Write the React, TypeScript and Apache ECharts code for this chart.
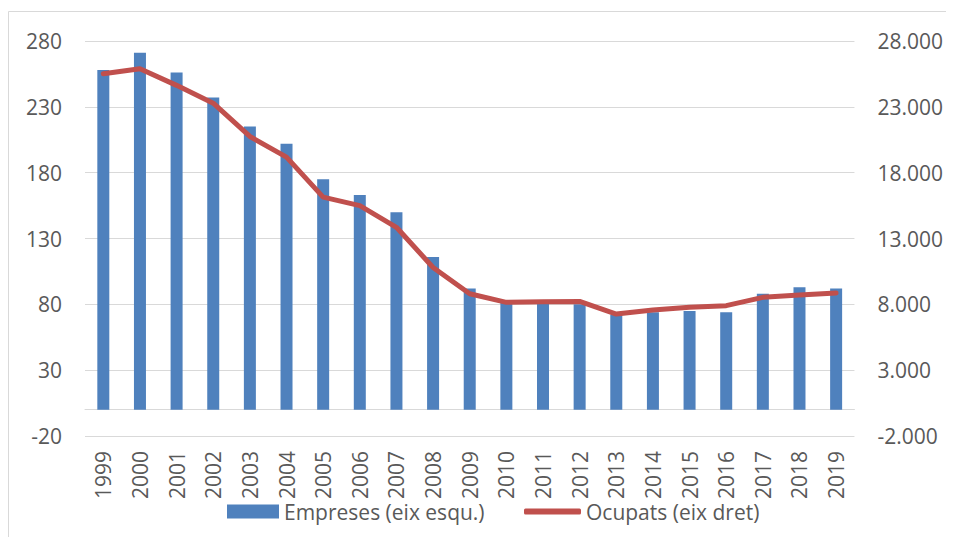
import React, { useEffect, useRef } from "react";
import * as echarts from "echarts";

const years = ["1999","2000","2001","2002","2003","2004","2005","2006","2007","2008","2009","2010","2011","2012","2013","2014","2015","2016","2017","2018","2019"];
const empreses = [258, 271, 256, 237, 215, 202, 175, 163, 150, 116, 92, 81, 81, 80, 72, 74, 75, 74, 88, 93, 92];
const ocupats = [25520, 25900, 24630, 23280, 20750, 19180, 16140, 15500, 13850, 10800, 8800, 8150, 8200, 8220, 7260, 7570, 7770, 7900, 8530, 8710, 8860];
const seriesNames = ["Empreses (eix esqu.)", "Ocupats (eix dret)"];

const FONT = "Open Sans";
const TXT = "#595959";
const GRID = "#D9D9D9";
const FS = 21;

function fmtThousands(v: number): string {
  const neg = v < 0;
  const s = Math.abs(Math.round(v)).toString().replace(/\B(?=(\d{3})+(?!\d))/g, ".");
  return (neg ? "-" : "") + s;
}

export default function App() {
  const ref = useRef<HTMLDivElement>(null);
  useEffect(() => {
    if (!ref.current) return;
    document.body.style.overflow = "hidden";
    const chart = echarts.init(ref.current, null, { renderer: "svg" });
    chart.setOption({
      animation: false,
      backgroundColor: "#ffffff",
      textStyle: { fontFamily: FONT, color: TXT },
      graphic: [
        {
          type: "polyline",
          shape: { points: [[0.5, 700], [0.5, 3.5], [1200, 3.5]] },
          style: { fill: "none", stroke: GRID, lineWidth: 1 },
          silent: true,
          z: 0,
        },
      ],
      grid: { left: 77, right: 88, top: 33, bottom: 101 },
      legend: [
        {
          data: [{ name: seriesNames[0], icon: "rect" }],
          left: 214,
          top: 488,
          itemWidth: 52,
          itemHeight: 14,
          textStyle: { fontFamily: FONT, fontSize: FS, color: TXT },
        },
        {
          data: [{ name: seriesNames[1], icon: "roundRect" }],
          left: 511,
          top: 488,
          itemWidth: 57,
          itemHeight: 6,
          textStyle: { fontFamily: FONT, fontSize: FS, color: TXT },
        },
      ],
      xAxis: {
        type: "category",
        data: years,
        axisTick: { show: false },
        axisLine: { lineStyle: { color: GRID, width: 1 } },
        axisLabel: { rotate: 90, margin: 15, fontFamily: FONT, fontSize: FS, color: TXT },
      },
      yAxis: [
        {
          type: "value",
          min: -20,
          max: 280,
          interval: 50,
          axisLine: { show: false },
          axisTick: { show: false },
          splitLine: { lineStyle: { color: GRID, width: 1 } },
          axisLabel: { margin: 23, fontFamily: FONT, fontSize: FS, color: TXT },
        },
        {
          type: "value",
          min: -2000,
          max: 28000,
          interval: 5000,
          axisLine: { show: false },
          axisTick: { show: false },
          splitLine: { show: false },
          axisLabel: { margin: 23, fontFamily: FONT, fontSize: FS, color: TXT, formatter: (v: number) => fmtThousands(v) },
        },
      ],
      series: [
        {
          name: seriesNames[0],
          type: "bar",
          data: empreses,
          barWidth: 12,
          yAxisIndex: 0,
          itemStyle: { color: "#4F81BD" },
        },
        {
          name: seriesNames[1],
          type: "line",
          data: ocupats,
          yAxisIndex: 1,
          symbol: "none",
          itemStyle: { color: "#C0504D" },
          lineStyle: { color: "#C0504D", width: 5, cap: "round", join: "round" },
        },
      ],
    });
    return () => chart.dispose();
  }, []);
  return <div ref={ref} style={{ width: 938, height: 529 }} />;
}
